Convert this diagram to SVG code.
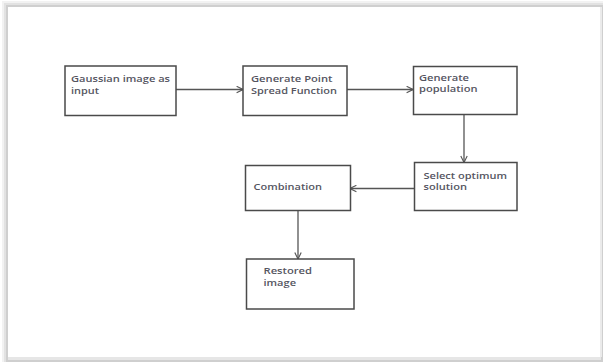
<svg xmlns="http://www.w3.org/2000/svg" width="603" height="362" viewBox="0 0 603 362">
<defs>
<marker id="open" viewBox="0 0 10 10" refX="9" refY="5" markerWidth="8" markerHeight="8" markerUnits="userSpaceOnUse" orient="auto">
<path d="M1,1 L9,5 L1,9" fill="none" stroke="#555" stroke-width="1.4"/>
</marker>
</defs>
<style>
.box{fill:#fff;stroke:#4a4a4a;stroke-width:1.5}
.lbl{font-family:"Open Sans","Noto Sans",sans-serif;font-size:9.5px;font-weight:600;fill:#55555f}
.conn{stroke:#555;stroke-width:1.3;fill:none;marker-end:url(#open)}
</style>
<rect x="0" y="0" width="603" height="362" fill="#fff"/>
<g id="frame">
<rect x="2" y="1" width="601" height="361" fill="#f2f2f2"/>
<rect x="4" y="3" width="599" height="359" fill="#e2e2e2"/>
<rect x="6" y="5" width="597" height="357" fill="#cfcfcf"/>
<rect x="8" y="7" width="592" height="350" fill="#fff"/>
<line x1="601" y1="7" x2="601" y2="357" stroke="#ebebeb" stroke-width="2"/>
<line x1="8" y1="358.5" x2="601" y2="358.5" stroke="#e6e6e6" stroke-width="3"/>
</g>
<g id="connectors">
<line class="conn" x1="176" y1="89.5" x2="243" y2="89.5"/>
<line class="conn" x1="347" y1="89.5" x2="413" y2="89.5"/>
<line class="conn" x1="464" y1="114.5" x2="464" y2="162.5"/>
<line class="conn" x1="414" y1="188.5" x2="350" y2="188.5"/>
<line class="conn" x1="298" y1="210.5" x2="298" y2="259"/>
</g>
<g id="n1">
<rect class="box" x="65" y="66" width="111" height="49.5"/>
<text class="lbl" x="71" y="82" textLength="99" lengthAdjust="spacingAndGlyphs">Gaussian image as</text>
<text class="lbl" x="71" y="93.5" textLength="28" lengthAdjust="spacingAndGlyphs">input</text>
</g>
<g id="n2">
<rect class="box" x="243" y="66" width="104" height="49.5"/>
<text class="lbl" x="251" y="82" textLength="81.5" lengthAdjust="spacingAndGlyphs">Generate Point</text>
<text class="lbl" x="251" y="93.5" textLength="86" lengthAdjust="spacingAndGlyphs">Spread Function</text>
</g>
<g id="n3">
<rect class="box" x="413.5" y="66.5" width="103.5" height="48"/>
<text class="lbl" x="419" y="80.5" textLength="50" lengthAdjust="spacingAndGlyphs">Generate</text>
<text class="lbl" x="419" y="92" textLength="58.5" lengthAdjust="spacingAndGlyphs">population</text>
</g>
<g id="n4">
<rect class="box" x="414.5" y="162.5" width="102.5" height="48"/>
<text class="lbl" x="423.5" y="178.5" textLength="83.5" lengthAdjust="spacingAndGlyphs">Select optimum</text>
<text class="lbl" x="423.5" y="190" textLength="43.5" lengthAdjust="spacingAndGlyphs">solution</text>
</g>
<g id="n5">
<rect class="box" x="245.5" y="165.5" width="105" height="45"/>
<text class="lbl" x="253.5" y="190" textLength="68.5" lengthAdjust="spacingAndGlyphs">Combination</text>
</g>
<g id="n6">
<rect class="box" x="246.5" y="259" width="107.5" height="50"/>
<text class="lbl" x="263.5" y="274" textLength="48.5" lengthAdjust="spacingAndGlyphs">Restored</text>
<text class="lbl" x="263.5" y="285.5" textLength="32.5" lengthAdjust="spacingAndGlyphs">image</text>
</g>
</svg>
